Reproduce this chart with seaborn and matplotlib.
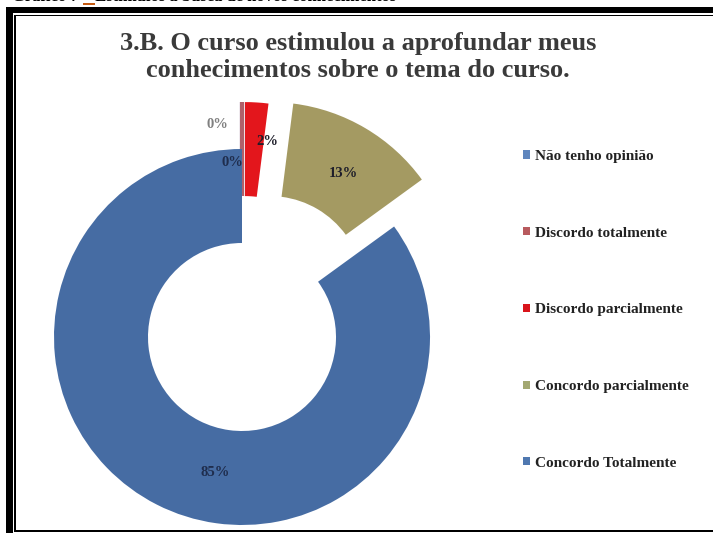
import matplotlib
matplotlib.use("Agg")
import matplotlib.pyplot as plt
import seaborn as sns
from matplotlib.patches import Rectangle

# ---- data ----
categories = ["Não tenho opinião", "Discordo totalmente", "Discordo parcialmente",
              "Concordo parcialmente", "Concordo Totalmente"]
values = [0, 0, 2, 13, 85]
explode = [0.25, 0.25, 0.25, 0.29, 0.0]
colors = ["#8C9BC4", "#B0606A", "#E3161C", "#A49A62", "#466CA3"]
legend_colors = ["#5F86BE", "#B85A5E", "#D9141B", "#A3A872", "#4F78B0"]
title = "3.B. O curso estimulou a aprofundar meus\nconhecimentos sobre o tema do curso."
caption = "Gráfico 7 – Estímulos à busca de novos conhecimentos"

sns.set_theme(style="white")
plt.rcParams['font.family'] = ['Liberation Serif', 'DejaVu Serif']

W, H = 713, 533
fig = plt.figure(figsize=(W / 100, H / 100), dpi=100)
fig.patch.set_facecolor("white")

# frame
def px_rect(x0, y0, x1, y1, color="black"):
    fig.add_artist(Rectangle((x0 / W, 1 - y1 / H), (x1 - x0) / W, (y1 - y0) / H,
                             transform=fig.transFigure, facecolor=color,
                             edgecolor="none", zorder=10))

px_rect(6, 7, 13, 533)
px_rect(6, 7, 713, 13)
px_rect(14, 14.5, 16, 531)
px_rect(14, 14.5, 713, 16)
px_rect(14, 530, 713, 532)

# caption (mostly clipped at the top)
fig.text(12 / W, 1 - 1.2 / H, caption, ha="left", va="baseline",
         fontsize=12, fontweight="bold", color="black")
px_rect(83, 3, 95, 5.3, color="#C55A11")

# pie axes: center (242, 337) px, radius 188 px
cx, cy, R = 242, 337, 188
lim = 1.5
aw = 2 * lim * R
ax = fig.add_axes([(cx - aw / 2) / W, (H - cy - aw / 2) / H, aw / W, aw / H])

wedges, texts, autotexts = ax.pie(
    values, explode=explode, colors=colors, startangle=90, counterclock=False,
    radius=1.0, autopct="%1.0f%%", pctdistance=0.75,
    wedgeprops=dict(width=0.5, linewidth=0),
    textprops=dict(fontsize=10.5, fontweight="bold", color="#1E1E2A"))
ax.set_xlim(-lim, lim)
ax.set_ylim(-lim, lim)
ax.set_aspect("equal")
ax.axis("off")

for w, v, c in zip(wedges, values, colors):
    w.set_clip_on(False)
    if v == 0:
        w.set_edgecolor(c)
        w.set_linewidth(3)

# adjust label placement (as in the original, zero labels staggered)
x0, y0 = autotexts[0].get_position()
autotexts[0].set_position((x0 - 0.13, y0 + 0.13))
autotexts[0].set_color("#808080")
x1, y1 = autotexts[1].get_position()
autotexts[1].set_position((x1 - 0.05, y1 - 0.07))
autotexts[1].set_color("#1F2D4D")
x2, y2 = autotexts[2].get_position()
autotexts[2].set_position((x2 + 0.07, y2 + 0.04))
x3, y3 = autotexts[3].get_position()
autotexts[3].set_position((x3 + 0.01, y3 - 0.025))
x4, y4 = autotexts[4].get_position()
autotexts[4].set_position((x4 + 0.2, y4 - 0.05))
autotexts[4].set_color("#1F2D4D")

# title
fig.text(358 / W, 1 - 57 / H, title, ha="center", va="center",
         fontsize=19, fontweight="bold", color="#3A3A3A", linespacing=1.22)

# legend
handles = [Rectangle((0, 0), 1, 1, facecolor=c, edgecolor="none") for c in legend_colors]
leg = fig.legend(handles, categories, loc="upper left",
                 bbox_to_anchor=(523 / W, 1 - 150 / H),
                 frameon=False, prop=dict(size=11, weight="bold"),
                 labelspacing=4.17, handlelength=0.45, handleheight=0.45,
                 handletextpad=0.35, borderpad=0, borderaxespad=0)
for t in leg.get_texts():
    t.set_color("#222222")

fig.savefig("out.png", dpi=100, facecolor="white")
